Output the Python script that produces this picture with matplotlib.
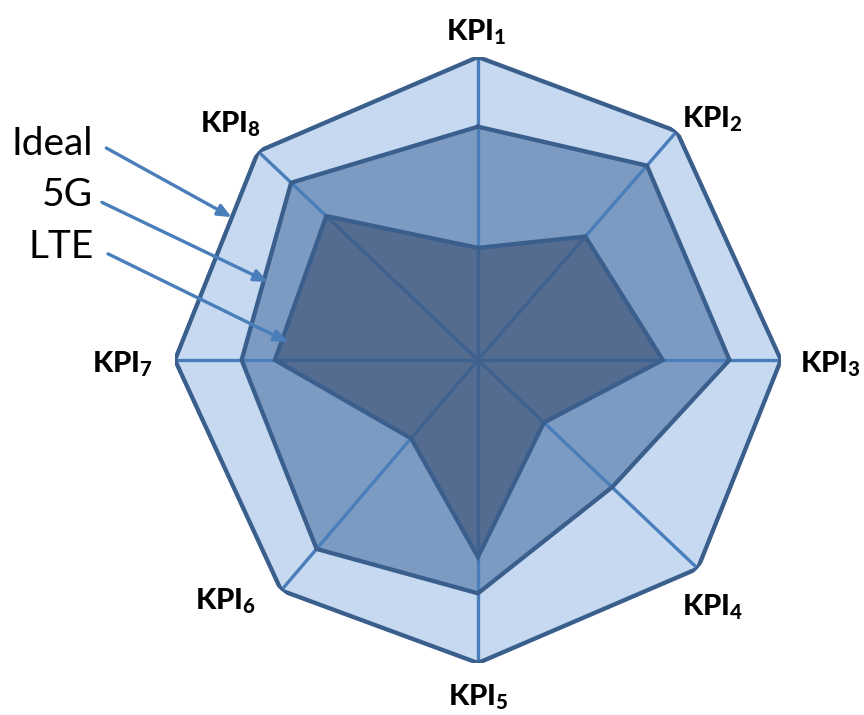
"""Radar chart: Ideal vs 5G vs LTE over eight KPIs."""

import matplotlib

matplotlib.use("Agg")
import matplotlib.pyplot as plt
import numpy as np

plt.rcParams["font.family"] = ["Lato", "DejaVu Sans"]
plt.rcParams["mathtext.fontset"] = "custom"
plt.rcParams["mathtext.rm"] = "Lato"
plt.rcParams["mathtext.bf"] = "Lato:black"

# data
kpis = ["KPI1", "KPI2", "KPI3", "KPI4", "KPI5", "KPI6", "KPI7", "KPI8"]
ideal = [1.0, 1.0, 1.0, 1.0, 1.0, 1.0, 1.0, 1.0]
g5 = [0.77, 0.85, 0.83, 0.61, 0.77, 0.82, 0.78, 0.85]
lte = [0.37, 0.54, 0.61, 0.30, 0.65, 0.34, 0.67, 0.69]
series_names = ["Ideal", "5G", "LTE"]

# axis directions (degrees, ccw from east) as drawn in the original
axis_deg = [90, 49, 0, -43.5, -90, -130.5, 180, 136.5]
theta = np.deg2rad(axis_deg)

EDGE = "#3A5F8D"
SPOKE = "#4A7EBB"
FILL_IDEAL = "#C6D9F1"
FILL_5G = "#7C9BC2"
FILL_LTE = "#384E70"

fig = plt.figure(figsize=(8.64, 7.15), dpi=100)
ax = fig.add_axes([0.2025, 0.0727, 0.7014, 0.8476], projection="polar")
ax.set_ylim(0, 1)
ax.set_axis_off()


def closed(vals):
    return np.append(theta, theta[0]), np.append(vals, vals[0])


t, r = closed(ideal)
ax.fill(t, r, color=FILL_IDEAL, zorder=1)
t, r = closed(g5)
ax.fill(t, r, color=FILL_5G, zorder=2)

for th in theta:
    ax.plot([th, th], [0, 1], color=SPOKE, lw=2.4, zorder=3, solid_capstyle="butt")

t, r = closed(lte)
ax.fill(t, r, color=FILL_LTE, alpha=0.6, lw=0, zorder=4)

for vals in (ideal, g5, lte):
    t, r = closed(vals)
    ax.plot(t, r, color=EDGE, lw=3.1, zorder=5, solid_joinstyle="miter")

# KPI labels: (ha, va, offset in points)
label_place = [
    ("center", "bottom", (-1, 7)),
    ("left", "bottom", (4, -2)),
    ("left", "center", (14, -3)),
    ("left", "top", (-11, -17)),
    ("center", "top", (0, -14)),
    ("right", "top", (-18, 3)),
    ("right", "center", (-16, -3)),
    ("right", "bottom", (2, 9)),
]
for name, th, (ha, va, off) in zip(kpis, theta, label_place):
    txt = r"$\mathbf{KPI}_\mathbf{%s}$" % name[3:]
    ax.annotate(txt, xy=(th, 1.0), xytext=off, textcoords="offset points",
                ha=ha, va=va, fontsize=21, annotation_clip=False)

# series legend with arrows pointing into the rings
arrow_tips = [(149.9, 0.94), (159.6, 0.74), (174.6, 0.63)]
text_pos = [(0.108, 0.799), (0.108, 0.727), (0.108, 0.654)]
tail_pos = [(0.123, 0.793), (0.118, 0.717), (0.125, 0.645)]
for name, (td, rr), tp, tl in zip(series_names, arrow_tips, text_pos, tail_pos):
    fig.text(tp[0], tp[1], name, ha="right", va="center", fontsize=28, color="black")
    ax.annotate("", xy=(np.deg2rad(td), rr), xytext=tl, textcoords="figure fraction",
                arrowprops=dict(arrowstyle="-|>,head_length=0.8,head_width=0.35",
                                color=SPOKE, lw=2.4, shrinkA=0, shrinkB=0),
                annotation_clip=False, zorder=6)

fig.savefig("out.png", dpi=100, facecolor="white")
